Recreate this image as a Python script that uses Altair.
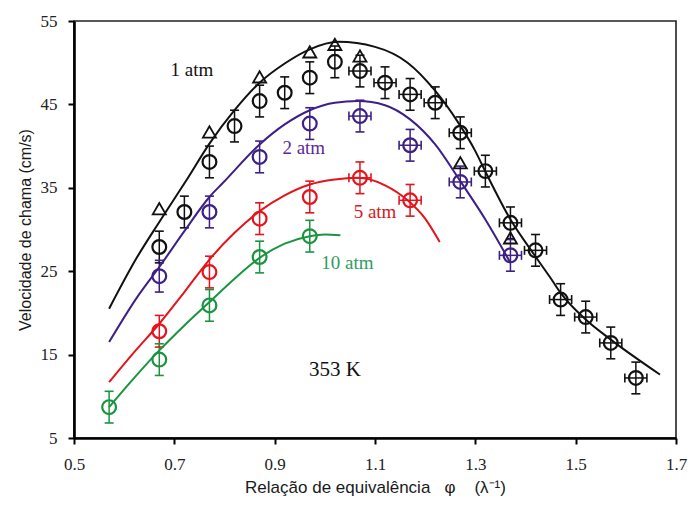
import altair as alt
import pandas as pd

# ---- data ----
series_names = ["1 atm", "2 atm", "5 atm", "10 atm"]
series_colors = ["#111111", "#3d1f86", "#e3141c", "#1b9440"]

phi_1atm = [0.67, 0.72, 0.77, 0.82, 0.87, 0.92, 0.97, 1.02, 1.07, 1.12,
            1.17, 1.22, 1.27, 1.32, 1.37, 1.42, 1.47, 1.52, 1.57, 1.62]
su_1atm = [27.9, 32.1, 38.1, 42.4, 45.4, 46.4, 48.2, 50.1, 49.0, 47.6,
           46.2, 45.2, 41.6, 37.0, 30.8, 27.5, 21.6, 19.5, 16.4, 12.2]

phi_1atm_tri = [0.67, 0.77, 0.87, 0.97, 1.02, 1.07, 1.27, 1.37]
su_1atm_tri = [32.5, 41.7, 48.3, 51.3, 52.2, 50.8, 38.0, 29.0]

phi_2atm = [0.67, 0.77, 0.87, 0.97, 1.07, 1.17, 1.27, 1.37]
su_2atm = [24.4, 32.1, 38.7, 42.7, 43.6, 40.1, 35.7, 26.9]

phi_5atm = [0.67, 0.77, 0.87, 0.97, 1.07, 1.17]
su_5atm = [17.8, 24.9, 31.3, 33.9, 36.2, 33.5]

phi_10atm = [0.57, 0.67, 0.77, 0.87, 0.97]
su_10atm = [8.7, 14.4, 20.9, 26.7, 29.2]

# fitted curves
curve_1atm_phi = [0.57, 0.625, 0.67, 0.724, 0.77, 0.82, 0.87, 0.92, 0.97, 1.027,
                  1.10, 1.165, 1.219, 1.265, 1.30, 1.318, 1.371, 1.417, 1.452,
                  1.47, 1.52, 1.57, 1.62, 1.668]
curve_1atm_su = [20.5, 26.6, 30.9, 35.9, 40.3, 44.3, 47.6, 49.9, 51.6, 52.5,
                 51.9, 50.0, 46.7, 42.9, 39.4, 37.2, 31.1, 27.0, 24.0,
                 22.4, 19.2, 16.8, 14.6, 12.6]

curve_2atm_phi = [0.57, 0.625, 0.67, 0.72, 0.77, 0.797, 0.87, 0.92, 0.97, 1.02,
                  1.066, 1.12, 1.17, 1.22, 1.27, 1.32, 1.37]
curve_2atm_su = [16.5, 21.8, 25.5, 29.8, 33.9, 35.6, 40.2, 42.6, 44.3, 45.2,
                 45.4, 44.9, 43.2, 40.2, 35.8, 31.2, 26.0]

curve_5atm_phi = [0.57, 0.62, 0.67, 0.72, 0.77, 0.82, 0.87, 0.92, 0.97, 1.02,
                  1.066, 1.12, 1.165, 1.20, 1.229]
curve_5atm_su = [11.7, 15.3, 18.7, 22.5, 26.4, 29.6, 32.2, 34.1, 35.4, 36.0,
                 36.2, 35.3, 33.5, 31.3, 28.5]

curve_10atm_phi = [0.57, 0.62, 0.67, 0.72, 0.77, 0.82, 0.87, 0.92, 0.97, 1.00, 1.031]
curve_10atm_su = [8.7, 12.2, 15.5, 18.5, 21.3, 24.1, 26.6, 28.3, 29.2, 29.4, 29.3]

su_err = 1.9       # vertical error (cm/s)
phi_err = 0.022    # horizontal error, shown for phi >= 1.07

label_text = ["1 atm", "2 atm", "5 atm", "10 atm", "353 K"]
label_phi = [0.735, 0.958, 1.10, 1.045, 1.02]
label_su = [49.1, 39.8, 32.1, 26.0, 13.2]
label_color = ["#111111", "#5b2a9a", "#d81820", "#2e9c5f", "#111111"]
label_size = [19, 19, 19, 19, 21]

x_ticks = [0.5, 0.7, 0.9, 1.1, 1.3, 1.5, 1.7]
y_ticks = [5, 15, 25, 35, 45, 55]

SERIF = "Liberation Serif, Times New Roman, Times, serif"
SANS = "Liberation Sans, Arial, Helvetica, sans-serif"
NB = "\u00a0"
x_title = "Relação de equivalência" + NB * 3 + "φ" + NB * 4 + "(λ⁻¹)"

# ---- tables ----
pts = pd.concat([
    pd.DataFrame({"series": s, "phi": p, "su": v})
    for s, p, v in [("1 atm", phi_1atm, su_1atm), ("2 atm", phi_2atm, su_2atm),
                    ("5 atm", phi_5atm, su_5atm), ("10 atm", phi_10atm, su_10atm)]
], ignore_index=True)
pts["lo"] = pts["su"] - su_err
pts["hi"] = pts["su"] + su_err
pts["xlo"] = pts["phi"] - phi_err
pts["xhi"] = pts["phi"] + phi_err
hpts = pts[pts["phi"] >= 1.065].copy()

vcaps = pd.concat([
    pts[["series", "phi"]].assign(su=pts["lo"]),
    pts[["series", "phi"]].assign(su=pts["hi"]),
], ignore_index=True)
hcaps = pd.concat([
    hpts[["series", "su"]].assign(phi=hpts["xlo"]),
    hpts[["series", "su"]].assign(phi=hpts["xhi"]),
], ignore_index=True)

tri = pd.DataFrame({"phi": phi_1atm_tri, "su": su_1atm_tri})

curves = pd.concat([
    pd.DataFrame({"series": s, "phi": p, "su": v})
    for s, p, v in [("1 atm", curve_1atm_phi, curve_1atm_su),
                    ("2 atm", curve_2atm_phi, curve_2atm_su),
                    ("5 atm", curve_5atm_phi, curve_5atm_su),
                    ("10 atm", curve_10atm_phi, curve_10atm_su)]
], ignore_index=True)

labels = pd.DataFrame({"text": label_text, "phi": label_phi, "su": label_su,
                       "color": label_color, "size": label_size})

# ---- encodings ----
X = alt.X("phi:Q",
          scale=alt.Scale(domain=[0.5, 1.7], nice=False, zero=False),
          axis=alt.Axis(values=x_ticks, format=".1f", grid=False,
                        title=x_title,
                        labelFlush=False, labelFont=SERIF,
                        labelFontSize=17, labelColor="#222222",
                        titleFont=SANS, titleFontSize=17,
                        titleFontWeight="normal", titleColor="#1a1a1a",
                        tickSize=6, labelPadding=12, titlePadding=7))
Y = alt.Y("su:Q",
          scale=alt.Scale(domain=[5, 55], nice=False, zero=False),
          axis=alt.Axis(values=y_ticks, format="d", grid=False,
                        title="Velocidade de chama (cm/s)",
                        labelFlush=False, labelFont=SERIF,
                        labelFontSize=17, labelColor="#222222",
                        titleFont=SANS, titleFontSize=16,
                        titleFontWeight="normal", titleColor="#1a1a1a",
                        tickSize=6, labelPadding=11, titlePadding=7))
C = alt.Color("series:N",
              scale=alt.Scale(domain=series_names, range=series_colors),
              legend=None)

vbars = alt.Chart(pts).mark_rule(strokeWidth=1.5, opacity=1).encode(
    x=X, y=alt.Y("lo:Q"), y2="hi:Q", color=C)
vcap = alt.Chart(vcaps).mark_tick(orient="horizontal", size=9, thickness=1.6,
                                  opacity=1).encode(x=X, y=Y, color=C)
hbars = alt.Chart(hpts).mark_rule(strokeWidth=1.5, opacity=1).encode(
    x=alt.X("xlo:Q"), x2="xhi:Q", y=Y, color=C)
hcap = alt.Chart(hcaps).mark_tick(orient="vertical", size=9, thickness=1.6,
                                  opacity=1).encode(x=X, y=Y, color=C)

circles = alt.Chart(pts).mark_point(shape="circle", filled=False, size=190,
                                    strokeWidth=2.2, opacity=1).encode(
    x=X, y=Y, color=C)

triangles = alt.Chart(tri).mark_point(shape="triangle-up", filled=False, size=170,
                                      strokeWidth=1.8, color="#111111",
                                      opacity=1).encode(x=X, y=Y)

lines = alt.Chart(curves).mark_line(strokeWidth=2, interpolate="monotone").encode(
    x=X, y=Y, color=C, detail="series:N")

texts = alt.Chart(labels).mark_text(font=SERIF, align="center",
                                    baseline="middle").encode(
    x=X, y=Y, text="text:N",
    color=alt.Color("color:N", scale=None),
    size=alt.Size("size:Q", scale=None))

chart = alt.layer(vbars, vcap, hbars, hcap, circles, triangles, lines, texts).properties(
    width=602, height=417,
    padding={"left": 66, "top": 13, "right": 12, "bottom": 66},
    autosize=alt.AutoSizeParams(type="none"),
    background="white",
).configure_axis(
    domainColor="black", domainWidth=2.6, tickColor="black", tickWidth=2,
).configure_view(stroke="#222222", strokeWidth=1.6)

chart.save("out.html", embed_options={"renderer": "svg", "actions": False})
